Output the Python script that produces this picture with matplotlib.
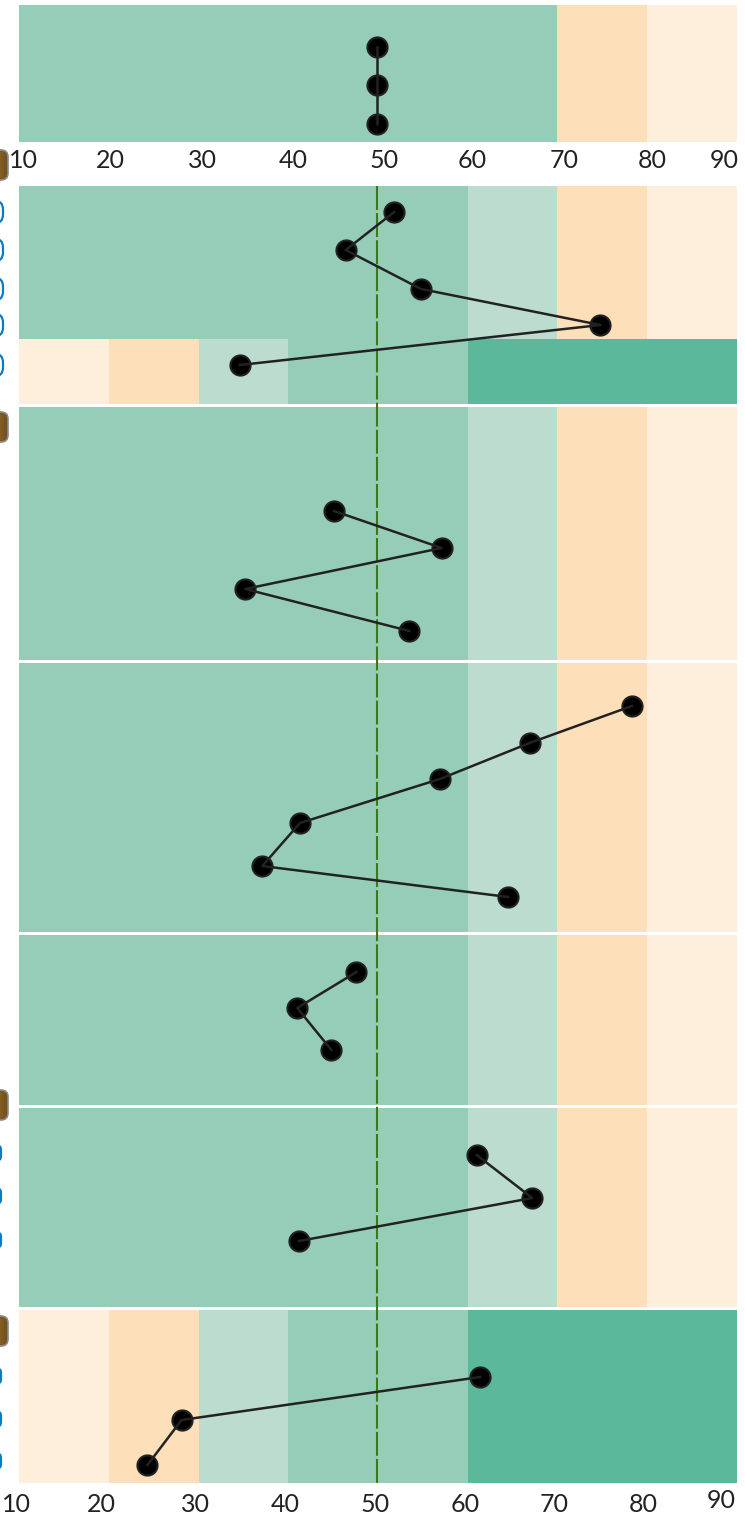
import numpy as np
import matplotlib
matplotlib.use("Agg")
import matplotlib.pyplot as plt
from matplotlib.patches import FancyBboxPatch
from matplotlib.colors import LinearSegmentedColormap

W, H = 745, 1515

# score series per panel
top_scores = [49.9, 49.9, 49.9]
b_scores = [51.8, 46.4, 54.8, 74.8, 34.6]
c_scores = [45.1, 57.1, 35.2, 53.5]
d_scores = [78.3, 66.9, 56.9, 41.3, 37.1, 64.5]
e_scores = [47.6, 41.0, 44.8]
f_scores = [61.0, 67.2, 41.2]
g_scores = [61.4, 28.1, 24.3]
reference_score = 49.9

tick_values = [10, 20, 30, 40, 50, 60, 70, 80, 90]

# colour bands
MID = "#96cdb9"
LIGHT = "#bbdccf"
DARK = "#5bb89a"
ORANGE = "#fddfba"
CREAM = "#feefdc"
high_good = [(10, 60, MID), (60, 70, LIGHT), (70, 80, ORANGE), (80, 90, CREAM)]
top_good = [(10, 70, MID), (70, 80, ORANGE), (80, 90, CREAM)]
low_good = [(10, 20, CREAM), (20, 30, ORANGE), (30, 40, LIGHT), (40, 60, MID), (60, 90, DARK)]

# layout in pixels
X10, PX_PER_UNIT = 19.2, 8.97
band_rows = [
    (5, 142, top_good),
    (186, 339, high_good),
    (339, 404, low_good),
    (407, 660, high_good),
    (663, 932, high_good),
    (935, 1105, high_good),
    (1108, 1307, high_good),
    (1310, 1483, low_good),
]
series = [
    (top_scores, [47, 85, 124]),
    (b_scores, [212, 250, 289, 325, 365]),
    (c_scores, [511, 548, 589, 631]),
    (d_scores, [706, 743, 779, 823, 866, 897]),
    (e_scores, [972, 1008, 1050]),
    (f_scores, [1155, 1198, 1241]),
    (g_scores, [1377, 1420, 1465]),
]
top_label_x = [23, 110, 202, 293, 384, 472, 564, 652, 724]
bottom_label_x = [16, 101, 195, 285, 375, 465, 554, 643, 721]
bottom_label_y = [1504, 1504, 1504, 1504, 1504, 1504, 1504, 1504, 1500]
icon_y = [165, 427, 1105, 1331]
pill_y_upper = [212, 250, 289, 325, 365]
pill_y_lower = [1153, 1196, 1240, 1376, 1419, 1461]

plt.rcParams["font.family"] = ["Lato", "DejaVu Sans"]

fig = plt.figure(figsize=(W / 100, H / 100), dpi=100)
ax = fig.add_axes([0, 0, 1, 1])
ax.set_xlim(10 - X10 / PX_PER_UNIT, 10 + (W - X10) / PX_PER_UNIT)
ax.set_ylim(H, 0)
ax.axis("off")

for y0, y1, bands in band_rows:
    for lo, hi, col in bands:
        ax.barh((y0 + y1) / 2, hi - lo, height=y1 - y0, left=lo, color=col, linewidth=0, zorder=1)

# reference line
ax.plot([reference_score, reference_score], [186, 1483], color="#3b7a12", lw=1.5, dashes=(11.5, 1.5), zorder=2)

for scores, ys in series:
    ax.plot(scores, ys, color="#222222", lw=1.8, zorder=4)
    ax.plot(scores, ys, ls="none", marker="o", ms=14.5, mfc="black", mec="#222222", mew=1.5, zorder=3)

to_x = lambda px: 10 + (px - X10) / PX_PER_UNIT
for v, px in zip(tick_values, top_label_x):
    ax.text(to_x(px), 161, str(v), ha="center", va="center", fontsize=18, color="#222222", zorder=5)
for v, px, py in zip(tick_values, bottom_label_x, bottom_label_y):
    ax.text(to_x(px), py, str(v), ha="center", va="center", fontsize=18, color="#222222", zorder=5)

# cut-off icons on the left edge, drawn in plain pixel coordinates
deco = fig.add_axes([0, 0, 1, 1], facecolor="none")
deco.axis("off")
brown = LinearSegmentedColormap.from_list("brown", ["#6f4e1e", "#96692b", "#a87a35"])
grad = np.linspace(1, 0, 40).reshape(1, -1)
for y in icon_y:
    box = FancyBboxPatch((-20, y - 15), 28, 30, boxstyle="round,pad=0,rounding_size=7",
                         fc="none", ec="#8a8a8a", lw=1.2, zorder=7)
    deco.add_patch(box)
    img = deco.imshow(grad, extent=(-20, 8, y + 15, y - 15), cmap=brown, aspect="auto", zorder=6)
    img.set_clip_path(box)
for y in pill_y_upper:
    deco.add_patch(FancyBboxPatch((-30, y - 11.5), 33, 23, boxstyle="round,pad=0,rounding_size=9",
                                  fc="white", ec="#0a7cc4", lw=1.6, zorder=6))
for y in pill_y_lower:
    deco.add_patch(FancyBboxPatch((-30, y - 8), 31, 16, boxstyle="round,pad=0,rounding_size=5",
                                  fc="white", ec="#0a7cc4", lw=1.6, zorder=6))
deco.set_xlim(0, W)
deco.set_ylim(H, 0)

fig.savefig("out.png", dpi=100)
